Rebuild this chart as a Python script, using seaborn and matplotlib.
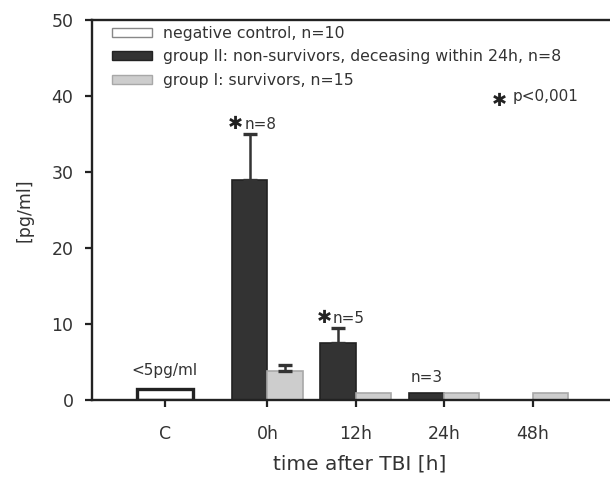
import matplotlib
matplotlib.use("Agg")
import matplotlib.pyplot as plt
import seaborn as sns
import pandas as pd
from matplotlib.patches import Patch

# valores
times = ["0h", "12h", "24h", "48h"]
time_pos = [0, 1, 2, 3]
group2 = [29.0, 7.5, 0.9, 0.0]        # group II: non-survivors
group2_err = [6.0, 2.0, 0.0, 0.0]
group1 = [3.8, 0.9, 0.9, 0.9]         # group I: survivors
group1_err = [0.8, 0.0, 0.0, 0.0]
control_label = "C"
control_pos = [-1.16]
control_value = [1.5]

labels = ["negative control, n=10",
          "group II: non-survivors, deceasing within 24h, n=8",
          "group I: survivors, n=15"]

df = pd.DataFrame({
    "pos": time_pos * 2,
    "value": group2 + group1,
    "group": [labels[1]] * 4 + [labels[2]] * 4,
})

sns.set_style("ticks")
plt.rcParams["font.family"] = ["DejaVu Sans"]
txt = "#333333"
star = "\u2731"

fig = plt.figure(figsize=(6.10, 4.79), dpi=100)
# o eixo continua além da borda direita, como no original
ax = fig.add_axes([0.150, 0.165, 0.878, 0.793])

# controle
sns.barplot(x=control_pos, y=control_value, native_scale=True, width=0.63,
            color="white", edgecolor="#222222", linewidth=2.4, errorbar=None, ax=ax)

# grupos
sns.barplot(data=df, x="pos", y="value", hue="group", hue_order=[labels[1], labels[2]],
            palette={labels[1]: "#333333", labels[2]: "#cdcdcd"}, native_scale=True,
            width=0.8, errorbar=None, legend=False, saturation=1, ax=ax)

cont_g2, cont_g1 = ax.containers[-2], ax.containers[-1]
for bars, errs, ec in [(cont_g2, group2_err, "#222222"), (cont_g1, group1_err, "#a8a8a8")]:
    for bar, e in zip(bars, errs):
        bar.set_edgecolor(ec)
        bar.set_linewidth(1.2)
        if e > 0:
            xc = bar.get_x() + bar.get_width() / 2
            ax.errorbar(xc, bar.get_height(), yerr=[[0], [e]], fmt="none",
                        ecolor="#333333", elinewidth=1.8, capsize=5, capthick=2.4)

# anotações (asterisco + n)
for i, n in [(0, "n=8"), (1, "n=5")]:
    xc = cont_g2[i].get_x() + cont_g2[i].get_width() / 2
    top = group2[i] + group2_err[i]
    ax.text(xc - 0.06, top + 1.2, n, fontsize=11, color=txt, ha="left", va="center")
    ax.text(xc - 0.16, top + 1.3, star, fontsize=13, color="#222222", ha="center", va="center")
xc = cont_g2[2].get_x() + cont_g2[2].get_width() / 2
ax.text(xc, 3.0, "n=3", fontsize=11, color=txt, ha="center", va="center")
ax.text(control_pos[0], 3.9, "<5pg/ml", fontsize=11, color=txt, ha="center", va="center")
ax.text(2.62, 39.4, star, fontsize=13, color="#222222", ha="center", va="center")
ax.text(2.77, 39.9, "p<0,001", fontsize=11, color=txt, ha="left", va="center")

ax.set_xlim(-1.99, 4.07)
ax.set_ylim(0, 50)
ax.set_yticks([0, 10, 20, 30, 40, 50])
ax.set_xticks(control_pos + time_pos)
ax.set_xticklabels([control_label] + times)
ax.tick_params(axis="both", labelsize=12.5, colors="#222222", labelcolor=txt,
               direction="out", length=5, width=1.6)
ax.tick_params(axis="x", pad=13)
ax.tick_params(axis="y", pad=8)
ax.set_xlabel("time after TBI [h]", fontsize=14.5, color=txt, labelpad=8)
ax.set_ylabel("[pg/ml]", fontsize=12.5, color=txt, labelpad=13)

for s in ["left", "top", "bottom"]:
    ax.spines[s].set_linewidth(1.7)
    ax.spines[s].set_color("#222222")
ax.spines["right"].set_visible(False)

handles = [Patch(facecolor="white", edgecolor="#888888", linewidth=1),
           Patch(facecolor="#333333", edgecolor="#222222", linewidth=1),
           Patch(facecolor="#cdcdcd", edgecolor="#a8a8a8", linewidth=1)]
leg = ax.legend(handles, labels, loc="upper left", bbox_to_anchor=(0.027, 1.002),
                frameon=False, fontsize=11.3, handlelength=2.55, handleheight=0.5,
                labelspacing=0.55, handletextpad=0.7, borderaxespad=0.0)
for t in leg.get_texts():
    t.set_color(txt)

plt.savefig("out.png", dpi=100)
